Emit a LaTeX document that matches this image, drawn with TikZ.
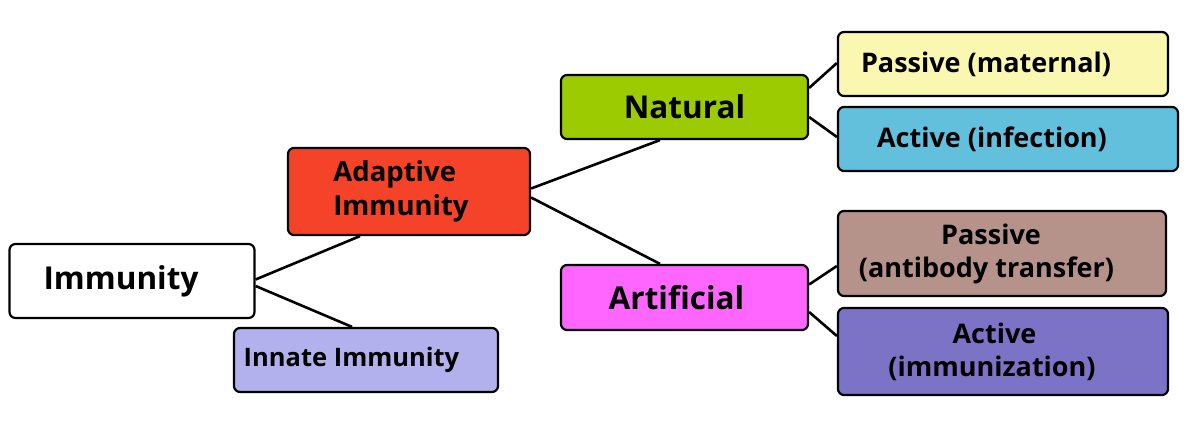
\documentclass[tikz,border=0pt]{standalone}
\usepackage{fontspec}
\setmainfont{Open Sans}
\usetikzlibrary{positioning}

\definecolor{adaptred}{HTML}{F44328}
\definecolor{innateblue}{HTML}{B3B0EE}
\definecolor{natgreen}{HTML}{9BCB00}
\definecolor{artpink}{HTML}{FF66FF}
\definecolor{matyellow}{HTML}{FAF8B0}
\definecolor{infcyan}{HTML}{63C0DD}
\definecolor{abbrown}{HTML}{B5928A}
\definecolor{immpurple}{HTML}{7D73C6}

\tikzset{
  box/.style={draw=black, line width=2.2pt, rounded corners=6pt, inner sep=0pt, font=\bfseries},
  link/.style={draw=black, line width=2.6pt},
  big/.style={font=\bfseries\fontsize{31.5}{36}\selectfont},
  mid/.style={font=\bfseries\fontsize{27.5}{34}\selectfont},
  small/.style={font=\bfseries\fontsize{27}{33}\selectfont}
}

\begin{document}
\begin{tikzpicture}[x=1pt, y=1pt]
            \useasboundingbox (0,0) rectangle (1200,447);

            \node[box, big, fill=white, minimum width=245pt, minimum height=74pt] (imm) at (132,166) {Immunity\hspace*{22pt}};
            \node[box, mid, fill=adaptred, minimum width=242pt, minimum height=87pt, align=left] (adapt) at (409,255.5) {Adaptive\\Immunity\hspace*{16pt}};
            \node[box, mid, font=\bfseries\fontsize{25.5}{30}\selectfont, fill=innateblue, minimum width=264pt, minimum height=64pt] (innate) at (366,87) {Innate Immunity\hspace*{29pt}};
            \node[box, big, fill=natgreen, minimum width=247pt, minimum height=64pt] (nat) at (684.5,340) {Natural};
            \node[box, big, fill=artpink, minimum width=247pt, minimum height=65pt] (art) at (684.5,149.5) {Artificial\hspace*{16pt}};

            \node[box, small, fill=matyellow, minimum width=330pt, minimum height=64pt] (pmat) at (1003,383) {Passive (maternal)\hspace*{34pt}};
            \node[box, small, fill=infcyan, minimum width=340pt, minimum height=64pt] (ainf) at (1008,308) {Active (infection)\hspace*{32pt}};
            \node[box, small, fill=abbrown, minimum width=328pt, minimum height=85pt, align=center] (pab) at (1002,193.5) {Passive\hspace*{22pt}\\(antibody transfer)\hspace*{31pt}};
            \node[box, small, fill=immpurple, minimum width=330pt, minimum height=87pt, align=center] (aimm) at (1003,95.5) {Active\hspace*{17pt}\\(immunization)\hspace*{22pt}};

            % tree links
            \draw[link] ([yshift=1.5pt]imm.east) -- ([xshift=-49pt]adapt.south);
            \draw[link] ([yshift=-5pt]imm.east) -- ([xshift=-14pt]innate.north);
            \draw[link] ([yshift=3pt]adapt.east) -- ([xshift=-24.5pt]nat.south);
            \draw[link] ([yshift=-6pt]adapt.east) -- ([xshift=-24.5pt]art.north);
            \draw[link] ([yshift=19pt]nat.east) -- ([yshift=1pt]pmat.west);
            \draw[link] ([yshift=-10pt]nat.east) -- ([yshift=2pt]ainf.west);
            \draw[link] ([yshift=13pt]art.east) -- ([yshift=-12.5pt]pab.west);
            \draw[link] ([yshift=-14.5pt]art.east) -- ([yshift=15.5pt]aimm.west);

        \end{tikzpicture}
\end{document}
